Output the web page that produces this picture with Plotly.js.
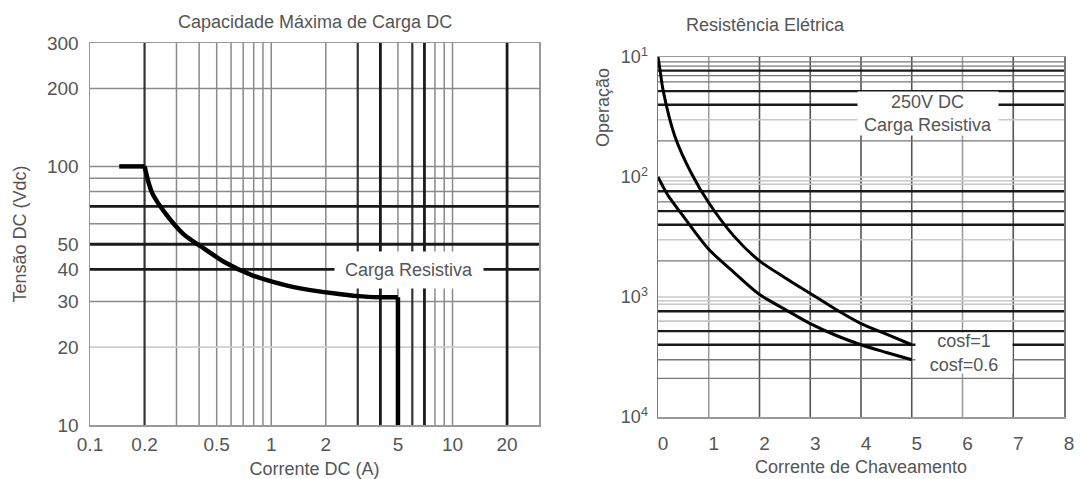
<!DOCTYPE html>
<html><head><meta charset="utf-8">
<script src="https://cdn.plot.ly/plotly-3.0.1.min.js"></script>
<style>html,body{margin:0;padding:0;background:#fff}#chart{width:1081px;height:479px}</style>
</head><body><div id="chart"></div>
<script>
// ---------- Left chart: Capacidade Máxima de Carga DC ----------
// the limit line is read in three parts: flat start, curved section, vertical cut-off
const dcStartCurrent = [0.145, 0.2];
const dcStartVoltage = [100, 100];
const dcCurveCurrent = [0.2, 0.205, 0.21, 0.22, 0.26, 0.33, 0.41, 0.55, 0.78, 1.18, 1.5, 2.2, 3, 4, 5];
const dcCurveVoltage = [100, 93, 87, 79, 66, 54.5, 49, 42.7, 38, 34.8, 33.6, 32.3, 31.5, 31.2, 31.2];
const dcCutCurrent = [5, 5];
const dcCutVoltage = [31.2, 10];
const dcXTicks = [0.1, 0.2, 0.5, 1, 2, 5, 10, 20];
const dcXTickText = ['0.1', '0.2', '0.5', '1', '2', '5', '10', '20'];
const dcYTicks = [10, 20, 30, 40, 50, 100, 200, 300];
const dcYTickText = ['10', '20', '30', '40', '50', '100', '200', '300'];
// grid lines of the left chart (axis values)
const dcGridXThick = [4, 7, 20];
const dcGridXDark = [0.2, 3, 6];
const dcGridXGray = [0.3, 0.4, 0.5, 0.6, 0.7, 0.8, 0.9, 1, 2, 5, 8, 9, 10];
const dcGridYThick = [70, 50, 40];
const dcGridYGray = [200, 100, 90, 80, 60, 30];
const dcGridYLight = [20];

// ---------- Right chart: Resistência Elétrica ----------
const swCurrentA = [0, 0.04, 0.1, 0.33, 0.66, 1, 1.5, 2, 2.5, 3, 3.5, 4, 4.5, 5];
const opsCos1 = [1e7, 7.8e6, 5.3e6, 2.2e6, 1.07e6, 6.1e5, 3.2e5, 2.0e5, 1.45e5, 1.07e5, 7.9e4, 6.0e4, 4.9e4, 4.0e4];
const swCurrentB = [0, 0.1, 0.2, 0.5, 1, 1.5, 2, 2.5, 3, 3.5, 4, 4.5, 5];
const opsCos06 = [1e6, 8.3e5, 7.0e5, 4.7e5, 2.5e5, 1.6e5, 1.05e5, 7.9e4, 6.0e4, 4.8e4, 4.0e4, 3.45e4, 3.0e4];
const opXTicks = [0, 1, 2, 3, 4, 5, 6, 7, 8];
const opYTicks = [1e4, 1e5, 1e6, 1e7];
const opYTickText = ['10<sup>4</sup>', '10<sup>3</sup>', '10<sup>2</sup>', '10<sup>1</sup>'];
const opGridXDark = [2, 3, 4, 5, 7];
const opGridXGray = [1, 6];
const opGridYThick = [7.7e6, 5.2e6, 4e6, 7.6e5, 5.2e5, 4e5, 7.6e4, 5.2e4, 4e4];
const opGridYGray = [9.1e6, 8.4e6, 7e6, 6.2e6, 2e6, 6.2e5, 2e5, 3e4, 2.1e4];
const opGridYLight = [3e6, 1e6, 9.3e5, 8.7e5, 3e5, 1e5, 9.3e4, 8.7e4, 6.3e4];

// ---------- layout geometry (pixels in a 1081x479 page) ----------
const W = 1081, H = 479;
const L = {x0: 90, x1: 539, y0: 43, y1: 425};
const R = {x0: 658, x1: 1064, y0: 57, y1: 417};
const dom = (a, b, n) => [a / n, b / n];
const domY = (top, bot) => [(H - bot) / H, (H - top) / H];

const FONT = 'Liberation Sans, Arial, Helvetica, sans-serif';
const TXT = '#555';

function vLines(vals, xref, yref, color, width) {
  return vals.map(v => ({type: 'line', layer: 'below', xref: xref, yref: yref + ' domain',
    x0: v, x1: v, y0: 0, y1: 1, line: {color: color, width: width}}));
}
function hLines(vals, xref, yref, color, width) {
  return vals.map(v => ({type: 'line', layer: 'below', xref: xref + ' domain', yref: yref,
    x0: 0, x1: 1, y0: v, y1: v, line: {color: color, width: width}}));
}

const shapes = [].concat(
  vLines(dcGridXGray, 'x', 'y', '#8a8a8a', 1.5),
  hLines(dcGridYLight, 'x', 'y', '#cfcfcf', 1.8),
  hLines(dcGridYGray, 'x', 'y', '#8a8a8a', 1.5),
  vLines(dcGridXDark, 'x', 'y', '#333', 2.2),
  vLines(dcGridXThick, 'x', 'y', '#1a1a1a', 2.8),
  hLines(dcGridYThick, 'x', 'y', '#1a1a1a', 2.8),
  vLines(opGridXGray, 'x2', 'y2', '#999', 1.5),
  vLines(opGridXDark, 'x2', 'y2', '#555', 1.6),
  hLines(opGridYLight, 'x2', 'y2', '#c8c8c8', 1.6),
  hLines(opGridYGray, 'x2', 'y2', '#777', 1.4),
  hLines(opGridYThick, 'x2', 'y2', '#1a1a1a', 2.4)
);

const dcLine = {color: '#000', width: 4.5};
const traces = [
  {x: dcStartCurrent, y: dcStartVoltage, xaxis: 'x', yaxis: 'y', type: 'scatter', mode: 'lines',
   line: dcLine, name: 'Carga Resistiva'},
  {x: dcCurveCurrent, y: dcCurveVoltage, xaxis: 'x', yaxis: 'y', type: 'scatter', mode: 'lines',
   line: Object.assign({}, dcLine, {shape: 'spline', smoothing: 0.7}), name: 'Carga Resistiva'},
  {x: dcCutCurrent, y: dcCutVoltage, xaxis: 'x', yaxis: 'y', type: 'scatter', mode: 'lines',
   line: dcLine, name: 'Carga Resistiva'},
  {x: swCurrentA, y: opsCos1, xaxis: 'x2', yaxis: 'y2', type: 'scatter', mode: 'lines',
   line: {color: '#000', width: 3, shape: 'spline', smoothing: 0.8}, name: 'cosf=1'},
  {x: swCurrentB, y: opsCos06, xaxis: 'x2', yaxis: 'y2', type: 'scatter', mode: 'lines',
   line: {color: '#000', width: 3, shape: 'spline', smoothing: 0.8}, name: 'cosf=0.6'}
];

const axBase = {showgrid: false, zeroline: false, ticks: '', showline: true, mirror: true,
  linecolor: '#999', linewidth: 1.5, tickfont: {family: FONT, size: 19, color: TXT}, fixedrange: true};
const titleFont = {family: FONT, size: 18, color: TXT};

const layout = {
  width: W, height: H, margin: {l: 0, r: 0, t: 0, b: 0},
  paper_bgcolor: '#fff', plot_bgcolor: '#fff', showlegend: false,
  font: {family: FONT, color: TXT, size: 18},
  xaxis: Object.assign({}, axBase, {domain: dom(L.x0, L.x1, W), anchor: 'y', type: 'log',
    range: [-1, Math.log10(30)], tickmode: 'array', tickvals: dcXTicks, ticktext: dcXTickText,
    ticklabelstandoff: 2,
    title: {text: 'Corrente DC (A)', font: titleFont, standoff: 9}}),
  yaxis: Object.assign({}, axBase, {domain: domY(L.y0, L.y1), anchor: 'x', type: 'log',
    range: [1, Math.log10(300)], tickmode: 'array', tickvals: dcYTicks, ticktext: dcYTickText,
    ticklabelstandoff: 6,
    title: {text: 'Tensão DC (Vdc)', font: titleFont, standoff: 15}}),
  xaxis2: Object.assign({}, axBase, {domain: dom(R.x0, R.x1, W), anchor: 'y2', type: 'linear',
    range: [0, 8], tickmode: 'array', tickvals: opXTicks, ticklabelstandoff: 9, ticklabelshift: 5,
    title: {text: 'Corrente de Chaveamento', font: titleFont, standoff: 7}}),
  yaxis2: Object.assign({}, axBase, {domain: domY(R.y0, R.y1), anchor: 'x2', type: 'log',
    range: [4, 7], tickmode: 'array', tickvals: opYTicks, ticktext: opYTickText,
    ticklabelstandoff: 5, tickfont: {family: FONT, size: 18, color: TXT},
    linecolor: '#777'}),
  shapes: shapes,
  annotations: [
    {text: 'Capacidade Máxima de Carga DC', xref: 'paper', yref: 'paper', x: 315 / W, y: (H - 22) / H,
     showarrow: false, xanchor: 'center', yanchor: 'middle', font: titleFont},
    {text: 'Resistência Elétrica', xref: 'paper', yref: 'paper', x: 765 / W, y: (H - 25) / H,
     showarrow: false, xanchor: 'center', yanchor: 'middle', font: titleFont},
    {text: 'Operação', xref: 'paper', yref: 'paper', x: 603 / W, y: (H - 108) / H, textangle: -90,
     showarrow: false, xanchor: 'center', yanchor: 'middle', font: titleFont},
    {text: 'Carga Resistiva', xref: 'x domain', yref: 'y domain',
     x: (409 - L.x0) / (L.x1 - L.x0), y: (L.y1 - 270) / (L.y1 - L.y0),
     xanchor: 'center', yanchor: 'middle',
     showarrow: false, bgcolor: '#fff', width: 148, height: 36, borderpad: 0, font: titleFont},
    {text: '250V DC<br>Carga Resistiva', xref: 'x2 domain', yref: 'y2 domain',
     x: (928 - R.x0) / (R.x1 - R.x0), y: (R.y1 - 113.5) / (R.y1 - R.y0),
     xanchor: 'center', yanchor: 'middle',
     showarrow: false, bgcolor: '#fff', width: 140, height: 43, borderpad: 0, font: titleFont},
    {text: 'cosf=1<br>cosf=0.6', xref: 'x2 domain', yref: 'y2 domain',
     x: (964 - R.x0) / (R.x1 - R.x0), y: (R.y1 - 353) / (R.y1 - R.y0),
     xanchor: 'center', yanchor: 'middle',
     showarrow: false, bgcolor: '#fff', width: 96, height: 40, borderpad: 0, font: titleFont}
  ]
};

Plotly.newPlot('chart', traces, layout, {staticPlot: true, displayModeBar: false});
</script>
</body></html>
